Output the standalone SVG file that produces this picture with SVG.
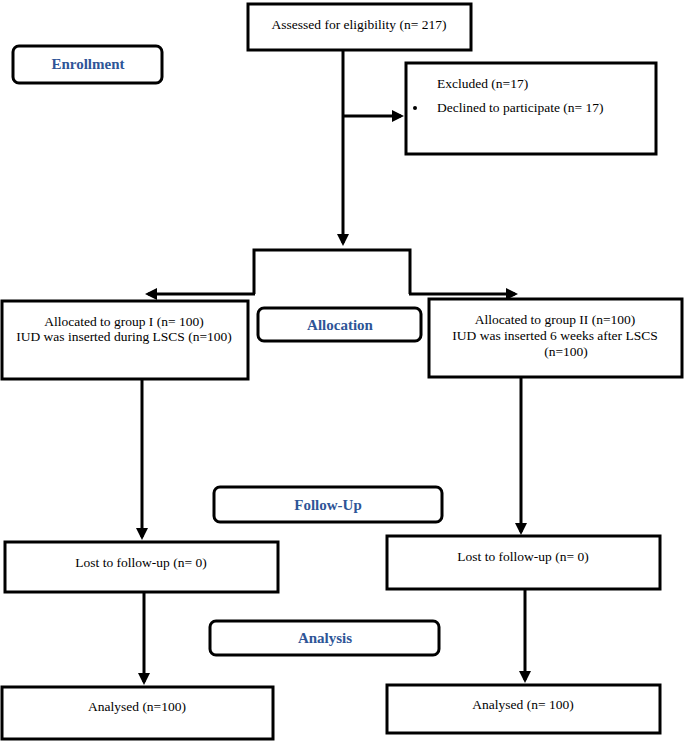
<svg xmlns="http://www.w3.org/2000/svg" width="685" height="741" viewBox="0 0 685 741">
<style>
.box{fill:#fff;stroke:#000;stroke-width:3}
.hdr{fill:#fff;stroke:#000;stroke-width:3}
.t{font-family:"Liberation Serif","Times New Roman",serif;font-size:13.5px;fill:#000}
.c{text-anchor:middle}
.h{font-family:"Liberation Serif","Times New Roman",serif;font-size:15px;font-weight:bold;fill:#2E5597;text-anchor:middle}
.ln{fill:none;stroke:#000;stroke-width:3}
</style>
<defs>
<marker id="ah" markerWidth="4" markerHeight="4" refX="3" refY="2" orient="auto" markerUnits="strokeWidth">
<path d="M0,0 L4,2 L0,4 z" fill="#000"/>
</marker>
</defs>
<rect width="685" height="741" fill="#fff"/>
<g id="connectors">
<path class="ln" d="M343,50 V243" marker-end="url(#ah)"/>
<path class="ln" d="M343,116 H401" marker-end="url(#ah)"/>
<path class="ln" d="M254,294 V250 H410 V294"/>
<path class="ln" d="M255,294 H148" marker-end="url(#ah)"/>
<path class="ln" d="M409,294 H515" marker-end="url(#ah)"/>
<path class="ln" d="M142,379 V537" marker-end="url(#ah)"/>
<path class="ln" d="M521,377 V532" marker-end="url(#ah)"/>
<path class="ln" d="M144,592 V682" marker-end="url(#ah)"/>
<path class="ln" d="M525,589 V680" marker-end="url(#ah)"/>
</g>
<g id="enrollment">
<rect class="hdr" x="13" y="46" width="149" height="37" rx="6"/>
<text class="h" x="88" y="69">Enrollment</text>
</g>
<g id="assessed">
<rect class="box" x="248" y="4" width="223" height="46"/>
<text class="t c" x="359" y="29">Assessed for eligibility (n= 217)</text>
</g>
<g id="excluded">
<rect class="box" x="406" y="63" width="250" height="91"/>
<text class="t" x="437" y="88">Excluded (n=17)</text>
<circle cx="415" cy="108" r="2"/>
<text class="t" x="437" y="112">Declined to participate (n= 17)</text>
</g>
<g id="group1">
<rect class="box" x="2" y="301" width="246" height="78"/>
<text class="t c" x="124" y="326">Allocated to group I (n= 100)</text>
<text class="t c" x="124" y="341">IUD was inserted during LSCS (n=100)</text>
</g>
<g id="allocation">
<rect class="hdr" x="258" y="308" width="163" height="33" rx="6"/>
<text class="h" x="340" y="330">Allocation</text>
</g>
<g id="group2">
<rect class="box" x="429" y="299" width="253" height="78"/>
<text class="t c" x="555" y="324">Allocated to group II (n=100)</text>
<text class="t c" x="555" y="340">IUD was inserted 6 weeks after LSCS</text>
<text class="t c" x="566" y="356">(n=100)</text>
</g>
<g id="followup">
<rect class="hdr" x="214" y="487" width="228" height="35" rx="6"/>
<text class="h" x="328" y="510">Follow-Up</text>
</g>
<g id="lost1">
<rect class="box" x="5" y="542" width="273" height="50"/>
<text class="t c" x="141" y="567">Lost to follow-up (n= 0)</text>
</g>
<g id="lost2">
<rect class="box" x="387" y="536" width="273" height="53"/>
<text class="t c" x="523" y="561">Lost to follow-up (n= 0)</text>
</g>
<g id="analysis">
<rect class="hdr" x="210" y="621" width="229" height="34" rx="6"/>
<text class="h" x="325" y="643">Analysis</text>
</g>
<g id="analysed1">
<rect class="box" x="2" y="687" width="271" height="52"/>
<text class="t c" x="137" y="711">Analysed (n=100)</text>
</g>
<g id="analysed2">
<rect class="box" x="387" y="685" width="273" height="48"/>
<text class="t c" x="523" y="709">Analysed (n= 100)</text>
</g>
</svg>
